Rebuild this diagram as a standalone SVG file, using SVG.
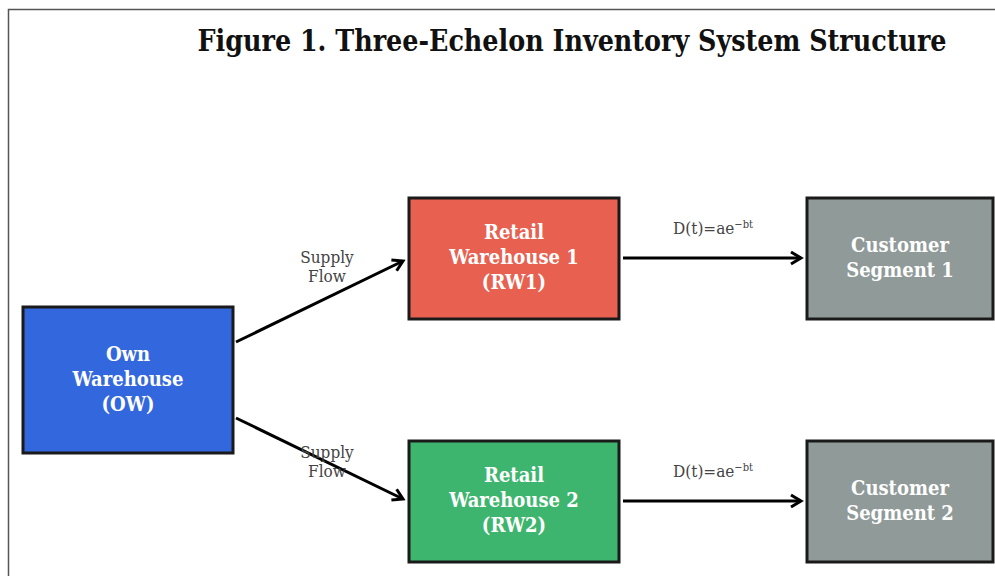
<svg xmlns="http://www.w3.org/2000/svg" width="995" height="576" viewBox="0 0 995 576">
<style>
.box{stroke:#1a1a1a;stroke-width:3}
.bt{font-family:"DejaVu Serif","Liberation Serif",serif;font-stretch:condensed;font-weight:bold;font-size:20px;fill:#ffffff;text-anchor:middle}
.lbl{font-family:"DejaVu Serif","Liberation Serif",serif;font-stretch:condensed;font-size:17px;fill:#444444;text-anchor:middle}
.conn{stroke:#000;stroke-width:3;fill:none}
</style>
<defs>
<marker id="ah" markerWidth="16" markerHeight="16" refX="12" refY="8" orient="auto" markerUnits="userSpaceOnUse">
<path d="M2,2 L12,8 L2,14" fill="none" stroke="#000" stroke-width="3"/>
</marker>
</defs>
<rect x="0" y="0" width="995" height="576" fill="#fff"/>
<path d="M8.5,576 V9.5 H995" fill="none" stroke="#555" stroke-width="1.5"/>
<text x="572" y="51" font-family="DejaVu Serif, Liberation Serif, serif" font-stretch="condensed" font-weight="bold" font-size="30" text-anchor="middle" fill="#111" textLength="749" lengthAdjust="spacingAndGlyphs">Figure 1. Three-Echelon Inventory System Structure</text>
<g id="connectors">
<line class="conn" x1="236" y1="342" x2="403" y2="261" marker-end="url(#ah)"/>
<line class="conn" x1="236" y1="418" x2="403" y2="499" marker-end="url(#ah)"/>
<line class="conn" x1="623" y1="258" x2="801" y2="258" marker-end="url(#ah)"/>
<line class="conn" x1="623" y1="501" x2="801" y2="501" marker-end="url(#ah)"/>
<text class="lbl" x="327" y="263">Supply</text>
<text class="lbl" x="327" y="282">Flow</text>
<text class="lbl" x="327" y="458">Supply</text>
<text class="lbl" x="327" y="477">Flow</text>
<text class="lbl" x="713" y="234">D(t)=ae<tspan font-size="11" dy="-6">−bt</tspan></text>
<text class="lbl" x="713" y="477">D(t)=ae<tspan font-size="11" dy="-6">−bt</tspan></text>
</g>
<g id="ow">
<rect class="box" x="23" y="307" width="210" height="146" fill="#3367DD"/>
<text class="bt" x="128" y="361">Own</text>
<text class="bt" x="128" y="386">Warehouse</text>
<text class="bt" x="128" y="411">(OW)</text>
</g>
<g id="rw1">
<rect class="box" x="409" y="198" width="210" height="121" fill="#E8604F"/>
<text class="bt" x="514" y="239">Retail</text>
<text class="bt" x="514" y="264">Warehouse 1</text>
<text class="bt" x="514" y="289">(RW1)</text>
</g>
<g id="rw2">
<rect class="box" x="409" y="441" width="210" height="121" fill="#3EB56E"/>
<text class="bt" x="514" y="482">Retail</text>
<text class="bt" x="514" y="507">Warehouse 2</text>
<text class="bt" x="514" y="532">(RW2)</text>
</g>
<g id="cs1">
<rect class="box" x="807" y="198" width="186" height="121" fill="#8F9A99"/>
<text class="bt" x="900" y="252">Customer</text>
<text class="bt" x="900" y="277">Segment 1</text>
</g>
<g id="cs2">
<rect class="box" x="807" y="441" width="186" height="121" fill="#8F9A99"/>
<text class="bt" x="900" y="495">Customer</text>
<text class="bt" x="900" y="520">Segment 2</text>
</g>
</svg>
